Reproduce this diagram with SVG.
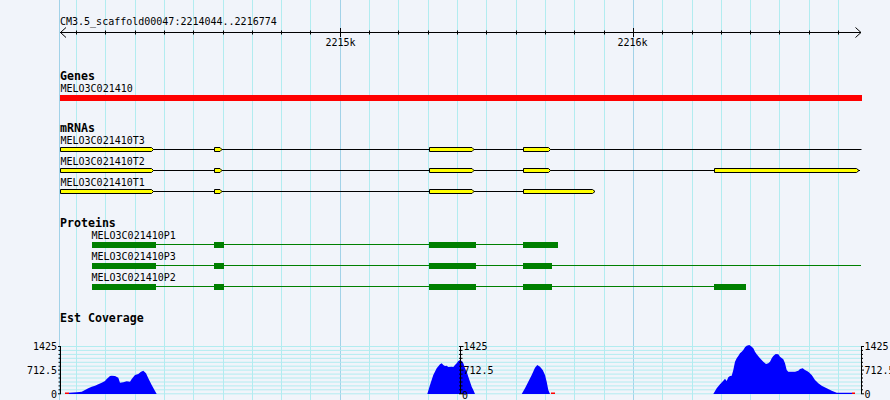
<svg xmlns="http://www.w3.org/2000/svg" width="890" height="400" viewBox="0 0 890 400">
<style>
.bg{fill:#f1f4fa}
.vmin{stroke:#b2ecf0;stroke-width:1}
.vmaj{stroke:#a2d2e8;stroke-width:1}
.hg{stroke:#b2ecf0;stroke-width:1}
.t{font-family:"DejaVu Sans Mono","Liberation Mono",monospace;font-size:10px;fill:#000}
.b{font-family:"DejaVu Sans Mono","Liberation Mono",monospace;font-size:11.6px;font-weight:bold;fill:#000}
.ax{stroke:#000;stroke-width:1;fill:none}
.mline{stroke:#000;stroke-width:1}
.exon{fill:#ffff00;stroke:#000;stroke-width:1}
.pline{stroke:#008000;stroke-width:1}
.cds{fill:#008000}
.cov{fill:#0000ff}
.red{fill:#ff0000}
</style>
<rect class="bg" x="0" y="0" width="890" height="400"/>
<g id="grid">
<line class="vmaj" x1="59.5" y1="0" x2="59.5" y2="400"/>
<line class="vmin" x1="76.5" y1="0" x2="76.5" y2="400"/>
<line class="vmin" x1="105.5" y1="0" x2="105.5" y2="400"/>
<line class="vmin" x1="135.5" y1="0" x2="135.5" y2="400"/>
<line class="vmin" x1="164.5" y1="0" x2="164.5" y2="400"/>
<line class="vmin" x1="193.5" y1="0" x2="193.5" y2="400"/>
<line class="vmin" x1="223.5" y1="0" x2="223.5" y2="400"/>
<line class="vmin" x1="252.5" y1="0" x2="252.5" y2="400"/>
<line class="vmin" x1="281.5" y1="0" x2="281.5" y2="400"/>
<line class="vmin" x1="310.5" y1="0" x2="310.5" y2="400"/>
<line class="vmaj" x1="340.5" y1="0" x2="340.5" y2="400"/>
<line class="vmin" x1="369.5" y1="0" x2="369.5" y2="400"/>
<line class="vmin" x1="398.5" y1="0" x2="398.5" y2="400"/>
<line class="vmin" x1="428.5" y1="0" x2="428.5" y2="400"/>
<line class="vmin" x1="457.5" y1="0" x2="457.5" y2="400"/>
<line class="vmin" x1="486.5" y1="0" x2="486.5" y2="400"/>
<line class="vmin" x1="516.5" y1="0" x2="516.5" y2="400"/>
<line class="vmin" x1="545.5" y1="0" x2="545.5" y2="400"/>
<line class="vmin" x1="574.5" y1="0" x2="574.5" y2="400"/>
<line class="vmin" x1="604.5" y1="0" x2="604.5" y2="400"/>
<line class="vmaj" x1="633.5" y1="0" x2="633.5" y2="400"/>
<line class="vmin" x1="662.5" y1="0" x2="662.5" y2="400"/>
<line class="vmin" x1="692.5" y1="0" x2="692.5" y2="400"/>
<line class="vmin" x1="721.5" y1="0" x2="721.5" y2="400"/>
<line class="vmin" x1="750.5" y1="0" x2="750.5" y2="400"/>
<line class="vmin" x1="779.5" y1="0" x2="779.5" y2="400"/>
<line class="vmin" x1="809.5" y1="0" x2="809.5" y2="400"/>
<line class="vmin" x1="838.5" y1="0" x2="838.5" y2="400"/>
</g>
<g id="ruler">
<text class="t" x="60" y="25">CM3.5_scaffold00047:2214044..2216774</text>
<line class="ax" x1="60" y1="32.5" x2="861" y2="32.5"/>
<polyline class="ax" points="66,27.5 60.5,32.5 66,37.5"/>
<polyline class="ax" points="855.5,27.5 861,32.5 855.5,37.5"/>
<path class="ax" d="M76.5,30.5V34.5M105.5,30.5V34.5M135.5,30.5V34.5M164.5,30.5V34.5M193.5,30.5V34.5M223.5,30.5V34.5M252.5,30.5V34.5M281.5,30.5V34.5M310.5,30.5V34.5M369.5,30.5V34.5M398.5,30.5V34.5M428.5,30.5V34.5M457.5,30.5V34.5M486.5,30.5V34.5M516.5,30.5V34.5M545.5,30.5V34.5M574.5,30.5V34.5M604.5,30.5V34.5M662.5,30.5V34.5M692.5,30.5V34.5M721.5,30.5V34.5M750.5,30.5V34.5M779.5,30.5V34.5M809.5,30.5V34.5M838.5,30.5V34.5M340.5,28V37M633.5,28V37"/>
<text class="t" x="340.5" y="46" text-anchor="middle">2215k</text>
<text class="t" x="632.5" y="46" text-anchor="middle">2216k</text>
</g>
<g id="genes">
<text class="b" x="60" y="80">Genes</text>
<text class="t" x="60.5" y="92">MELO3C021410</text>
<rect class="red" x="60" y="95" width="802" height="6"/>
</g>
<g id="mrnas">
<text class="b" x="60" y="132">mRNAs</text>
<g id="T3">
<text class="t" x="60.5" y="143.7">MELO3C021410T3</text>
<line class="mline" x1="60" y1="149.5" x2="861.5" y2="149.5"/>
<path class="exon" d="M60.5,147.5H151.5L153.5,149.5L151.5,151.5H60.5Z M214.5,147.5H220L222,149.5L220,151.5H214.5Z M429.5,147.5H472L474,149.5L472,151.5H429.5Z M523.5,147.5H548.5L550.5,149.5L548.5,151.5H523.5Z"/>
</g>
<g id="T2">
<text class="t" x="60.5" y="164.7">MELO3C021410T2</text>
<line class="mline" x1="60" y1="170.5" x2="860" y2="170.5"/>
<path class="exon" d="M60.5,168.5H151.5L153.5,170.5L151.5,172.5H60.5Z M214.5,168.5H220L222,170.5L220,172.5H214.5Z M429.5,168.5H472L474,170.5L472,172.5H429.5Z M523.5,168.5H548.5L550.5,170.5L548.5,172.5H523.5Z M714.5,168.5H856.5L859,170.5L856.5,172.5H714.5Z"/>
</g>
<g id="T1">
<text class="t" x="60.5" y="185.7">MELO3C021410T1</text>
<line class="mline" x1="60" y1="191.5" x2="595" y2="191.5"/>
<path class="exon" d="M60.5,189.5H151.5L153.5,191.5L151.5,193.5H60.5Z M214.5,189.5H220L222,191.5L220,193.5H214.5Z M429.5,189.5H472L474,191.5L472,193.5H429.5Z M523.5,189.5H592.5L595,191.5L592.5,193.5H523.5Z"/>
</g>
</g>
<g id="proteins">
<text class="b" x="60" y="227">Proteins</text>
<g id="P1">
<text class="t" x="91.5" y="239">MELO3C021410P1</text>
<line class="pline" x1="92" y1="244.5" x2="558" y2="244.5"/>
<rect class="cds" x="92" y="242" width="64" height="6"/>
<rect class="cds" x="214" y="242" width="10" height="6"/>
<rect class="cds" x="429" y="242" width="47" height="6"/>
<rect class="cds" x="523" y="242" width="35" height="6"/>
</g>
<g id="P3">
<text class="t" x="91.5" y="260">MELO3C021410P3</text>
<line class="pline" x1="92" y1="265.5" x2="861" y2="265.5"/>
<rect class="cds" x="92" y="263" width="64" height="6"/>
<rect class="cds" x="214" y="263" width="10" height="6"/>
<rect class="cds" x="429" y="263" width="47" height="6"/>
<rect class="cds" x="523" y="263" width="29" height="6"/>
</g>
<g id="P2">
<text class="t" x="91.5" y="281">MELO3C021410P2</text>
<line class="pline" x1="92" y1="286.5" x2="746" y2="286.5"/>
<rect class="cds" x="92" y="284" width="64" height="6"/>
<rect class="cds" x="214" y="284" width="10" height="6"/>
<rect class="cds" x="429" y="284" width="47" height="6"/>
<rect class="cds" x="523" y="284" width="29" height="6"/>
<rect class="cds" x="714" y="284" width="32" height="6"/>
</g>
</g>
<g id="coverage">
<text class="b" x="60" y="322">Est Coverage</text>
<g id="covgrid">
<path class="hg" d="M60,346.5H861M60,350.4H861M60,354.4H861M60,358.3H861M60,362.3H861M60,366.2H861M60,370.1H861M60,374.1H861M60,378H861M60,382H861M60,385.9H861M60,389.8H861M60,393.8H861"/>
</g>
<polygon class="cov" points="69,394 69,392.7 76.7,392.3 81.7,391.7 85,390 88.3,388.3 91.7,386.7 95,385.7 98.3,384.3 101.7,382.7 105,381 106.7,379 110,376 111.7,375.7 115,376 118.3,377.7 120,382.7 123.3,382.3 126.7,381.3 130,381.7 131.7,379 135,375 138.3,374 141,371.7 143.3,370.7 146,373.3 148.3,378.3 151.7,385 155,391 156.7,394"/>
<polygon class="cov" points="427.3,394 430,385 433.3,375 436.7,368.3 440,364.3 441.7,363.3 443.3,365 445,366 446.7,365.7 448.3,367 451.7,366.7 453.3,367 455,365 456.7,363.3 458.3,361 460,360 461.7,361 463.3,363.3 465,368.3 466.7,371.7 468.3,376.7 470,381.7 471.7,386.7 473.3,390 475,394"/>
<polygon class="cov" points="521.7,394 525,388.3 528.3,381.7 531.7,375 535,367.7 537.3,365 540,366.7 542.7,370 545,375 546.7,381.7 548.3,390 550,394"/>
<polygon class="cov" points="713.3,394 716.7,388.3 720,384.3 723.3,380.7 725,378.7 726.7,381 728.3,377.3 730,376 731.7,375.7 733.3,370 735,361.7 736.7,358.3 738.3,356 740,353.3 741.7,351.7 743.3,350 745,347.3 746.7,345.7 749.3,345 751.7,346.7 753.3,348.3 755,351.7 756.7,354.3 760,358.3 763.3,361.7 766,364 768.3,363.3 770,361.7 771.7,358.3 773.3,356 775.7,354 778.3,354.3 780,356.7 783.3,359.3 785,363.3 786.7,370 788.3,371.7 795,371.7 798.3,370.7 800,369 802.7,368.3 805,370 808.3,371.7 811.7,375 815,380 818.3,383.3 821.7,385.7 826.7,388.3 831.7,390.7 836.7,392.7 852,392.7 852,394"/>
<rect class="red" x="65" y="392.5" width="4" height="1.5"/>
<rect class="red" x="551" y="392.5" width="4" height="1.5"/>
<rect class="red" x="852" y="392.5" width="3" height="1.5"/>
<g id="axis-left">
<path class="ax" d="M60.5,346V394M58,346.5H61M58.5,350.4H61M58.5,354.4H61M58.5,358.3H61M58.5,362.3H61M58.5,366.2H61M58,370.1H61M58.5,374.1H61M58.5,378H61M58.5,382H61M58.5,385.9H61M58.5,389.8H61M58,393.8H61"/>
<text class="t" x="57" y="350" text-anchor="end">1425</text>
<text class="t" x="57" y="374" text-anchor="end">712.5</text>
<text class="t" x="57" y="397.5" text-anchor="end">0</text>
</g>
<g id="axis-mid">
<path class="ax" d="M460.5,346V394M459,346.5H463.5M459,350.4H462.5M459,354.4H462.5M459,358.3H462.5M459,362.3H462.5M459,366.2H462.5M459,370.1H463.5M459,374.1H462.5M459,378H462.5M459,382H462.5M459,385.9H462.5M459,389.8H462.5M459,393.8H463.5"/>
<text class="t" x="463.5" y="350">1425</text>
<text class="t" x="463.5" y="374">712.5</text>
<text class="t" x="462" y="398.5">0</text>
</g>
<g id="axis-right">
<path class="ax" d="M861.5,346V394M861,346.5H864M861,350.4H863M861,354.4H863M861,358.3H863M861,362.3H863M861,366.2H863M861,370.1H864M861,374.1H863M861,378H863M861,382H863M861,385.9H863M861,389.8H863M861,393.8H864"/>
<text class="t" x="864.5" y="350">1425</text>
<text class="t" x="864.5" y="374">712.5</text>
<text class="t" x="864.5" y="397.5">0</text>
</g>
</g>
<g id="connectors"/>
</svg>
